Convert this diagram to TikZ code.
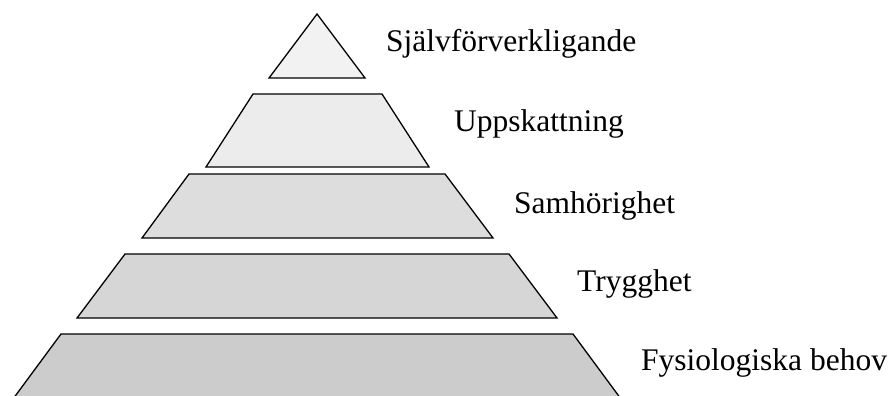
\documentclass[tikz,border=0pt]{standalone}
\usepackage{fontspec}
\setmainfont{Liberation Serif}
\begin{document}
\begin{tikzpicture}[x=1pt,y=-1pt,
  level/.style={draw=black,line width=1.3pt,line join=miter},
  lbl/.style={anchor=base west,inner sep=0pt,font=\fontsize{31.5}{34}\selectfont}]
\useasboundingbox (0,0) rectangle (892,396);
% levels
\draw[level,fill={rgb,255:red,242;green,242;blue,242}] (317,14) -- (365,78) -- (269,78) -- cycle;
\draw[level,fill={rgb,255:red,236;green,236;blue,236}] (253,94) -- (382,94) -- (429,167) -- (206,167) -- cycle;
\draw[level,fill={rgb,255:red,221;green,221;blue,221}] (189,174) -- (445,174) -- (493,238) -- (142,238) -- cycle;
\draw[level,fill={rgb,255:red,214;green,214;blue,214}] (125,254) -- (509,254) -- (557,318) -- (77,318) -- cycle;
\draw[level,fill={rgb,255:red,204;green,204;blue,204}] (61,334) -- (573,334) -- (621,399) -- (13,399) -- cycle;
% labels
\node[lbl] (l1) at (386,52) {Självförverkligande};
\node[lbl] (l2) at (454,131) {Uppskattning};
\node[lbl] (l3) at (514,213) {Samhörighet};
\node[lbl] (l4) at (577,291) {Trygghet};
\node[lbl] (l5) at (641,370) {Fysiologiska behov};
\end{tikzpicture}
\end{document}
